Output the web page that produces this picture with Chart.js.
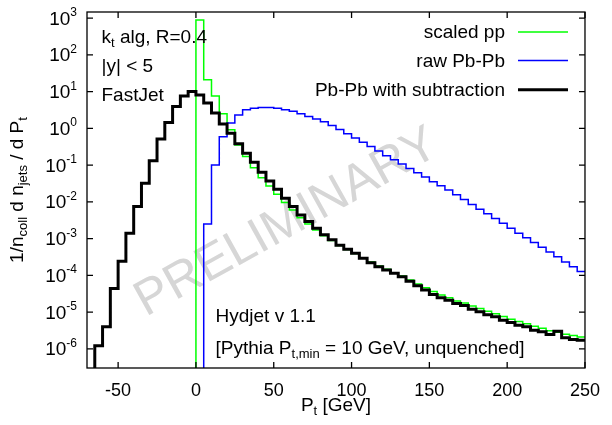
<!DOCTYPE html>
<html>
<head>
<meta charset="utf-8">
<script src="https://cdn.jsdelivr.net/npm/chart.js@4.4.0/dist/chart.umd.min.js"></script>
<style>
  html, body { margin: 0; padding: 0; background: #fff; }
  #wrap { width: 612px; height: 425px; }
</style>
</head>
<body>
<div id="wrap"><canvas id="ptChart" width="612" height="425"></canvas></div>
<script>
// bin edges in GeV (5 GeV bins)
const binEdges = [-65, -60, -55, -50, -45, -40, -35, -30, -25, -20, -15, -10, -5, 0,
  5, 10, 15, 20, 25, 30, 35, 40, 45, 50, 55, 60, 65, 70, 75, 80, 85, 90, 95, 100,
  105, 110, 115, 120, 125, 130, 135, 140, 145, 150, 155, 160, 165, 170, 175, 180,
  185, 190, 195, 200, 205, 210, 215, 220, 225, 230, 235, 240, 245, 250];

// Pb-Pb with subtraction, first bin starts at -65
const subtracted = [1.2e-6, 4.0e-6, 4.4e-5, 2.4e-4, 1.4e-3, 7.4e-3, 0.032, 0.13, 0.51, 1.44,
  3.9, 7.6, 10, 8.1, 4.9, 2.6, 1.3, 0.73, 0.38, 0.21, 0.12, 0.064, 0.037, 0.022, 0.0125,
  0.0074, 0.0044, 0.0029, 0.0019, 0.00126, 0.00092, 0.00066, 0.00051, 0.00040, 0.00029,
  0.00022, 0.00017, 0.00014, 0.000113, 9.1e-5, 6.9e-5, 5.2e-5, 4.0e-5, 3.0e-5, 2.45e-5,
  2.1e-5, 1.7e-5, 1.5e-5, 1.2e-5, 1.02e-5, 8.5e-6, 7.4e-6, 6.0e-6, 5.2e-6, 4.4e-6, 4.0e-6,
  3.2e-6, 2.9e-6, 2.45e-6, 3.0e-6, 2.0e-6, 1.8e-6, 1.7e-6];

// scaled pp, first bin starts at 0
const scaledPP = [880, 21, 7.6, 2.5, 0.91, 0.35, 0.17, 0.085, 0.045, 0.027, 0.016, 0.0095,
  0.006, 0.0037, 0.0025, 0.0017, 0.0012, 0.00088, 0.00065, 0.0005, 0.00039, 0.0003, 0.00023,
  0.00018, 0.000145, 0.000117, 9.5e-5, 7.4e-5, 5.8e-5, 4.6e-5, 3.6e-5, 2.9e-5, 2.45e-5,
  2.0e-5, 1.75e-5, 1.45e-5, 1.25e-5, 1.05e-5, 9.0e-6, 7.6e-6, 6.4e-6, 5.5e-6, 4.8e-6,
  4.1e-6, 3.6e-6, 3.1e-6, 2.8e-6, 2.5e-6, 2.3e-6, 2.1e-6];

// raw Pb-Pb, first bin starts at 5
const rawPbPb = [2.5e-3, 0.10, 0.59, 1.4, 2.3, 3.2, 3.5, 3.7, 3.7, 3.5, 3.2, 2.9, 2.5, 2.1,
  1.8, 1.5, 1.2, 0.93, 0.71, 0.54, 0.42, 0.32, 0.24, 0.18, 0.14, 0.107, 0.081, 0.062, 0.047,
  0.035, 0.0275, 0.021, 0.0155, 0.0115, 0.0085, 0.0063, 0.0047, 0.0035, 0.0026, 0.0019,
  0.0014, 0.00105, 7.8e-4, 5.8e-4, 4.3e-4, 3.2e-4, 2.3e-4, 1.7e-4, 1.26e-4];

const xTicks = [-50, 0, 50, 100, 150, 200, 250];
const yTicks = [1e-6, 1e-5, 1e-4, 1e-3, 1e-2, 1e-1, 1e0, 1e1, 1e2, 1e3];
const yTickExp = ['-6', '-5', '-4', '-3', '-2', '-1', '0', '1', '2', '3'];

const EMPTY = 1e-9; // empty bin, below the axis floor
const FONT = '"Liberation Sans", Arial, sans-serif';

function histPoints(firstEdge, values) {
    const i0 = binEdges.indexOf(firstEdge);
    const pts = [{ x: binEdges[i0], y: EMPTY }];
    values.forEach((v, k) => {
        pts.push({ x: binEdges[i0 + k], y: v });
        pts.push({ x: binEdges[i0 + k + 1], y: v });
    });
    return pts;
}

// text with subscripts: parts = [[text, isSub], ...]
function richText(ctx, parts, x, y, align, size) {
    const main = size + 'px ' + FONT;
    const sub = Math.round(size * 0.7) + 'px ' + FONT;
    let w = 0;
    parts.forEach(p => { ctx.font = p[1] ? sub : main; w += ctx.measureText(p[0]).width; });
    let cx = align === 'right' ? x - w : (align === 'center' ? x - w / 2 : x);
    ctx.textAlign = 'left';
    ctx.textBaseline = 'alphabetic';
    parts.forEach(p => {
        ctx.font = p[1] ? sub : main;
        ctx.fillText(p[0], cx, y + (p[1] ? 4 : 0));
        cx += ctx.measureText(p[0]).width;
    });
}

const decorations = {
    id: 'decorations',
    beforeDatasetsDraw(chart) {
        const ctx = chart.ctx;
        ctx.save();
        ctx.translate(287, 223);
        ctx.rotate(-29 * Math.PI / 180);
        ctx.font = '50px ' + FONT;
        ctx.fillStyle = '#d6d6d6';
        ctx.textAlign = 'center';
        ctx.textBaseline = 'middle';
        ctx.fillText('PRELIMINARY', 0, 0);
        ctx.restore();
    },
    afterDatasetsDraw(chart) {
        const ctx = chart.ctx;
        const a = chart.chartArea;
        const xs = chart.scales.x, ys = chart.scales.y;
        ctx.save();
        ctx.strokeStyle = '#000';
        ctx.lineWidth = 1.3;
        ctx.strokeRect(a.left, a.top, a.right - a.left, a.bottom - a.top);
        ctx.beginPath();
        xTicks.forEach(v => {
            const px = xs.getPixelForValue(v);
            ctx.moveTo(px, a.bottom); ctx.lineTo(px, a.bottom - 6);
            ctx.moveTo(px, a.top); ctx.lineTo(px, a.top + 6);
        });
        yTicks.forEach(v => {
            const py = ys.getPixelForValue(v);
            ctx.moveTo(a.left, py); ctx.lineTo(a.left + 6, py);
            ctx.moveTo(a.right, py); ctx.lineTo(a.right - 6, py);
        });
        ctx.stroke();

        // y tick labels: 10 with exponent
        ctx.fillStyle = '#000';
        ctx.textBaseline = 'alphabetic';
        ctx.textAlign = 'left';
        yTicks.forEach((v, i) => {
            const py = ys.getPixelForValue(v);
            ctx.font = '12px ' + FONT;
            const we = ctx.measureText(yTickExp[i]).width;
            ctx.font = '19px ' + FONT;
            const wb = ctx.measureText('10').width;
            const xEnd = a.left - 10;
            ctx.fillText('10', xEnd - we - wb, py + 6.5);
            ctx.font = '12px ' + FONT;
            ctx.fillText(yTickExp[i], xEnd - we, py - 2);
        });

        // axis titles
        richText(ctx, [['P', 0], ['t', 1], [' [GeV]', 0]], (a.left + a.right) / 2, 411, 'center', 19);
        ctx.save();
        ctx.translate(23, (a.top + a.bottom) / 2);
        ctx.rotate(-Math.PI / 2);
        richText(ctx, [['1/n', 0], ['coll', 1], [' d n', 0], ['jets', 1], [' / d P', 0], ['t', 1]], 0, 0, 'center', 19);
        ctx.restore();

        // labels
        richText(ctx, [['k', 0], ['t', 1], [' alg, R=0.4', 0]], 101.5, 42.5, 'left', 19);
        richText(ctx, [['|y| < 5', 0]], 101.5, 71.5, 'left', 19);
        richText(ctx, [['FastJet', 0]], 101.5, 100.5, 'left', 19);
        richText(ctx, [['Hydjet v 1.1', 0]], 215.5, 321.5, 'left', 19);
        richText(ctx, [['[Pythia P', 0], ['t,min', 1], [' = 10 GeV, unquenched]', 0]], 215.5, 354, 'left', 19);

        // legend: text then line sample
        const rows = [38.3, 66.7, 96];
        chart.data.datasets.forEach((ds, i) => {
            richText(ctx, [[ds.label, 0]], 505, rows[i], 'right', 19);
            ctx.beginPath();
            ctx.strokeStyle = ds.borderColor;
            ctx.lineWidth = ds.borderWidth;
            ctx.moveTo(518, rows[i] - 6.3);
            ctx.lineTo(568, rows[i] - 6.3);
            ctx.stroke();
        });
        ctx.restore();
    }
};

new Chart(document.getElementById('ptChart'), {
    type: 'line',
    data: {
        datasets: [
            { label: 'scaled pp', data: histPoints(0, scaledPP), borderColor: '#00ff00', borderWidth: 1.5, order: 3 },
            { label: 'raw Pb-Pb', data: histPoints(5, rawPbPb), borderColor: '#0000ff', borderWidth: 1.5, order: 2 },
            { label: 'Pb-Pb with subtraction', data: histPoints(-65, subtracted), borderColor: '#000000', borderWidth: 3, order: 1 }
        ]
    },
    options: {
        responsive: false,
        animation: false,
        devicePixelRatio: 1,
        layout: { padding: { top: 12, right: 20, left: 0, bottom: 0 } },
        plugins: { legend: { display: false }, tooltip: { enabled: false } },
        elements: { point: { radius: 0 }, line: { tension: 0, borderJoinStyle: 'miter', fill: false } },
        scales: {
            x: {
                type: 'linear', min: -70, max: 250,
                grid: { display: false, drawTicks: false },
                border: { display: false },
                afterBuildTicks: s => { s.ticks = xTicks.map(v => ({ value: v })); },
                afterFit: s => { s.height = 57; },
                ticks: { font: { family: FONT, size: 18 }, color: '#000', padding: 12, maxRotation: 0, autoSkip: false }
            },
            y: {
                type: 'logarithmic', min: 3e-7, max: 1460,
                grid: { display: false, drawTicks: false },
                border: { display: false },
                afterBuildTicks: s => { s.ticks = yTicks.map(v => ({ value: v })); },
                afterFit: s => { s.width = 87; },
                ticks: { display: false }
            }
        }
    },
    plugins: [decorations]
});
</script>
</body>
</html>
